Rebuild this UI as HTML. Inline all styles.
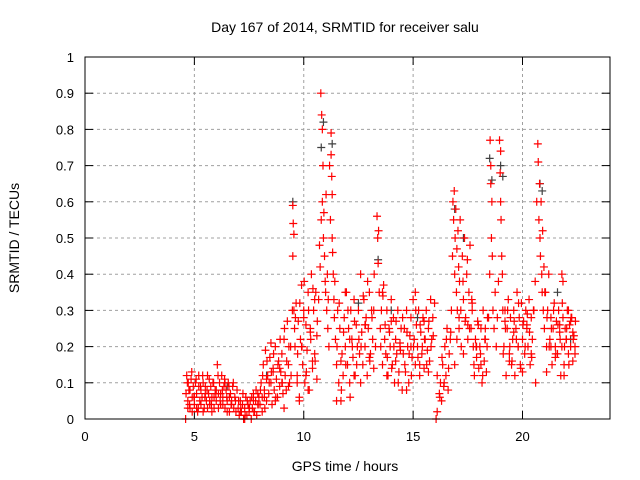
<!DOCTYPE html>
<html><head><meta charset="utf-8"><style>
body{margin:0;background:#fff}
svg{display:block;font-family:"Liberation Sans",sans-serif}
</style></head><body>
<svg id="chart" width="640" height="480" viewBox="0 0 640 480">
<rect width="640" height="480" fill="#fff"/>
<text x="345" y="32" text-anchor="middle" font-size="14">Day 167 of 2014, SRMTID for receiver salu</text>
<text transform="translate(19,238) rotate(-90)" text-anchor="middle" font-size="14">SRMTID / TECUs</text>
<text x="345" y="471" text-anchor="middle" font-size="14">GPS time / hours</text>
<g id="grid"></g>
<g id="ticks"></g>
<g id="marks2"></g>
<g id="marks"></g>
<rect x="85" y="57" width="525" height="362" fill="none" stroke="#000"/>
</svg>
<script>
const xTicks=[0,5,10,15,20];
const yTicks=[0,0.1,0.2,0.3,0.4,0.5,0.6,0.7,0.8,0.9,1];
const yTickLabels=["0","0.1","0.2","0.3","0.4","0.5","0.6","0.7","0.8","0.9","1"];
const redT=[
4.6,4.65,4.7,4.72,4.75,4.8,4.85,4.9,4.95,5.0,5.05,5.1,5.15,5.2,5.25,5.3,5.35,5.4,5.45,5.5,5.55,5.6,5.65,5.7,5.75,5.8,5.85,5.9,5.95,6.0,6.05,6.1,6.15,6.2,6.25,6.3,6.35,6.4,6.45,6.5,6.55,6.6,6.65,6.7,6.75,6.8,6.85,6.9,
4.7,4.8,4.9,5.0,5.1,5.2,5.3,5.4,5.5,5.6,5.7,5.8,5.9,6.0,6.1,6.2,6.3,6.4,6.5,6.6,6.7,
7.0,7.05,7.1,7.15,7.2,7.25,7.3,7.35,7.4,7.45,7.5,7.55,7.6,7.65,7.7,7.75,7.8,7.85,7.9,7.95,7.1,7.3,7.5,7.7,7.9,
8.0,8.05,8.1,8.15,8.2,8.25,8.3,8.35,8.4,8.45,8.5,8.55,8.6,8.65,8.7,8.75,8.8,8.85,8.9,8.95,9.0,9.05,9.1,9.15,9.2,9.25,9.3,9.35,9.4,
8.1,8.3,8.5,8.7,8.9,9.1,9.3,8.2,8.6,9.0,
9.5,9.5,9.52,9.55,9.55,9.58,9.6,9.65,9.7,9.75,9.8,9.85,9.9,9.95,10.0,10.05,10.1,10.15,10.2,10.25,10.3,10.35,10.4,10.45,10.5,10.55,10.6,
9.7,9.8,9.9,10.0,10.1,10.2,10.3,10.4,10.5,10.6,
10.75,10.78,10.8,10.82,10.85,10.85,10.88,10.9,10.92,10.95,10.98,11.0,11.02,11.05,11.08,11.1,11.12,11.15,
11.25,11.25,11.28,11.3,11.3,11.32,11.35,11.38,11.4,11.45,11.5,11.55,11.6,11.65,11.7,11.75,11.8,11.85,11.9,11.95,12.0,12.05,12.1,12.15,12.2,12.25,12.3,12.35,12.4,12.45,
11.5,11.7,11.9,12.1,12.3,12.5,12.55,12.6,12.65,12.7,12.75,12.8,12.85,12.9,12.95,13.0,13.05,13.1,13.15,13.2,
12.6,12.8,13.0,13.2,13.35,13.38,13.4,13.42,13.45,13.5,13.55,13.6,13.65,13.7,13.75,13.8,13.85,13.9,13.95,14.0,14.05,14.1,14.15,14.2,14.25,14.3,14.35,14.4,14.45,14.5,
13.6,13.8,14.0,14.2,14.4,14.55,14.6,14.65,14.7,14.75,14.8,14.85,14.9,14.95,15.0,15.05,15.1,15.15,15.2,15.25,15.3,15.35,15.4,15.45,15.5,15.55,15.6,15.65,15.7,15.75,15.8,15.85,15.9,
14.7,14.9,15.1,15.3,15.5,15.7,
16.05,16.1,16.1,16.2,16.25,16.3,16.35,16.4,16.45,16.5,16.55,16.6,16.65,16.7,16.75,
16.8,16.82,16.85,16.88,16.9,16.92,16.95,16.98,17.0,17.02,17.05,17.08,17.1,17.12,17.15,17.2,17.25,17.3,17.35,17.4,17.45,17.5,17.55,17.6,17.65,17.7,17.75,
16.9,17.0,17.1,17.3,17.5,17.7,17.8,17.85,17.9,17.95,18.0,18.05,18.1,18.15,18.2,18.25,18.3,18.35,18.4,17.9,18.1,18.3,
18.5,18.52,18.55,18.55,18.58,18.6,18.62,18.65,18.7,18.75,18.8,18.85,18.9,
18.95,18.98,19.0,19.0,19.02,19.05,19.08,19.1,19.15,19.2,19.25,19.3,19.35,19.4,19.45,19.5,19.55,19.6,19.65,19.7,19.75,19.8,19.85,19.9,19.95,20.0,20.05,20.1,20.15,20.2,20.25,20.3,20.35,20.4,20.45,20.5,
19.2,19.4,19.6,19.8,20.0,20.2,20.4,20.6,
20.65,20.7,20.72,20.75,20.78,20.8,20.82,20.85,20.88,20.9,20.92,20.95,20.98,21.0,21.05,21.1,21.15,21.2,21.25,21.3,21.35,21.4,21.45,21.5,21.55,21.6,21.65,21.7,21.75,21.8,21.85,21.9,21.95,22.0,22.05,22.1,22.15,22.2,22.25,22.3,22.35,22.4,
21.1,21.3,21.5,21.7,21.9,22.1,22.3,21.8,21.85,22.0,22.2,22.4
];
const redV=[
0.0,0.12,0.05,0.1,0.08,0.03,0.11,0.06,0.09,0.04,0.1,0.07,0.02,0.12,0.05,0.08,0.06,0.1,0.03,0.09,0.05,0.12,0.07,0.04,0.09,0.06,0.1,0.03,0.08,0.05,0.15,0.07,0.1,0.04,0.12,0.06,0.09,0.03,0.08,0.05,0.1,0.02,0.07,0.04,0.09,0.03,0.06,0.02,
0.03,0.08,0.02,0.06,0.03,0.09,0.04,0.02,0.07,0.03,0.05,0.02,0.06,0.08,0.03,0.07,0.04,0.1,0.02,0.06,0.05,
0.03,0.01,0.05,0.02,0.04,0.0,0.03,0.06,0.01,0.04,0.02,0.05,0.0,0.03,0.07,0.02,0.05,0.01,0.04,0.06,0.02,0.0,0.03,0.05,0.07,
0.04,0.1,0.06,0.15,0.08,0.19,0.05,0.12,0.07,0.17,0.1,0.04,0.14,0.08,0.2,0.11,0.06,0.16,0.09,0.13,0.18,0.07,0.22,0.12,0.08,0.27,0.15,0.1,0.2,
0.02,0.11,0.21,0.05,0.14,0.03,0.09,0.06,0.13,0.1,
0.59,0.45,0.54,0.51,0.3,0.25,0.2,0.32,0.12,0.27,0.06,0.22,0.37,0.15,0.3,0.1,0.26,0.19,0.35,0.08,0.24,0.4,0.14,0.3,0.18,0.35,0.23,
0.1,0.05,0.2,0.28,0.12,0.08,0.25,0.16,0.33,0.11,
0.42,0.9,0.55,0.84,0.8,0.6,0.7,0.5,0.57,0.45,0.38,0.35,0.62,0.3,0.4,0.25,0.33,0.2,
0.79,0.73,0.67,0.62,0.5,0.46,0.4,0.33,0.28,0.22,0.15,0.3,0.1,0.25,0.05,0.18,0.12,0.28,0.2,0.35,0.15,0.25,0.1,0.3,0.22,0.17,0.33,0.12,0.26,0.2,
0.05,0.16,0.35,0.22,0.12,0.3,0.18,0.4,0.24,0.15,0.33,0.2,0.28,0.12,0.25,0.35,0.18,0.3,0.22,0.14,
0.1,0.26,0.17,0.3,0.56,0.5,0.43,0.52,0.35,0.25,0.3,0.15,0.37,0.22,0.18,0.3,0.12,0.25,0.2,0.33,0.15,0.28,0.1,0.22,0.18,0.3,0.13,0.2,0.25,0.08,
0.35,0.12,0.27,0.16,0.21,0.18,0.25,0.13,0.3,0.2,0.1,0.23,0.28,0.17,0.33,0.22,0.15,0.26,0.2,0.3,0.12,0.24,0.18,0.28,0.14,0.22,0.3,0.19,0.25,0.16,0.33,0.22,0.28,
0.08,0.2,0.35,0.15,0.27,0.13,
0.0,0.02,0.12,0.07,0.1,0.05,0.15,0.09,0.2,0.12,0.25,0.08,0.18,0.22,0.3,
0.45,0.6,0.55,0.63,0.4,0.5,0.58,0.35,0.47,0.3,0.52,0.42,0.25,0.38,0.55,0.2,0.45,0.33,0.5,0.28,0.4,0.22,0.35,0.48,0.25,0.32,0.2,
0.15,0.22,0.28,0.18,0.26,0.3,0.12,0.22,0.17,0.27,0.14,0.2,0.25,0.1,0.3,0.16,0.22,0.13,0.28,0.2,0.15,0.25,
0.4,0.77,0.65,0.7,0.5,0.6,0.45,0.3,0.25,0.35,0.2,0.28,0.38,
0.77,0.68,0.74,0.6,0.55,0.45,0.4,0.3,0.2,0.27,0.12,0.25,0.33,0.18,0.28,0.15,0.22,0.3,0.12,0.25,0.35,0.2,0.28,0.15,0.32,0.22,0.27,0.18,0.3,0.25,0.2,0.33,0.15,0.28,0.22,0.3,
0.3,0.16,0.24,0.2,0.13,0.26,0.18,0.1,
0.6,0.76,0.71,0.55,0.65,0.5,0.45,0.6,0.4,0.35,0.52,0.3,0.42,0.25,0.35,0.2,0.3,0.4,0.22,0.28,0.15,0.25,0.32,0.2,0.27,0.18,0.3,0.24,0.12,0.2,0.28,0.15,0.25,0.22,0.3,0.18,0.26,0.2,0.28,0.16,0.23,0.2,
0.13,0.2,0.17,0.26,0.12,0.3,0.24,0.4,0.38,0.22,0.27,0.18
];
const redT2=[
4.62,4.68,4.78,4.88,4.98,5.08,5.18,5.28,5.38,5.48,5.58,5.68,5.78,5.88,5.98,6.08,6.18,6.28,6.38,6.48,6.58,6.68,6.78,6.88,6.95,
7.02,7.12,7.22,7.32,7.42,7.52,7.62,7.72,7.82,7.92,
8.02,8.12,8.22,8.32,8.42,8.52,8.62,8.72,8.82,8.92,9.02,9.12,9.22,9.32,9.42,9.48,
9.62,9.72,9.82,9.92,10.02,10.12,10.22,10.32,10.42,10.52,10.62,10.68,10.72,
11.18,11.22,11.42,11.52,11.62,11.72,11.82,11.92,12.02,12.12,12.22,12.32,12.42,12.52,12.62,12.72,12.82,12.92,13.02,13.12,13.22,13.28,
13.52,13.62,13.72,13.82,13.92,14.02,14.12,14.22,14.32,14.42,14.52,14.62,14.72,14.82,14.92,15.02,15.12,15.22,15.32,15.42,15.52,15.62,15.72,15.82,15.92,15.98,
16.22,16.32,16.42,16.52,16.62,16.72,
17.18,17.28,17.38,17.48,17.58,17.68,17.78,17.88,17.98,18.08,18.18,18.28,18.38,18.45,
19.12,19.22,19.32,19.42,19.52,19.62,19.72,19.82,19.92,20.02,20.12,20.22,20.32,20.42,20.52,20.58,
21.02,21.12,21.22,21.32,21.42,21.52,21.62,21.72,21.82,21.92,22.02,22.12,22.22,22.32,22.42
];
const redV2=[
0.07,0.1,0.04,0.13,0.06,0.11,0.03,0.09,0.12,0.06,0.08,0.11,0.04,0.1,0.07,0.12,0.05,0.08,0.11,0.06,0.09,0.04,0.1,0.05,0.08,
0.05,0.03,0.07,0.01,0.05,0.03,0.06,0.02,0.08,0.04,
0.08,0.12,0.03,0.16,0.1,0.13,0.18,0.06,0.15,0.22,0.1,0.25,0.16,0.2,0.12,0.3,
0.28,0.18,0.32,0.2,0.38,0.13,0.3,0.22,0.36,0.16,0.27,0.33,0.48,
0.7,0.55,0.38,0.2,0.32,0.08,0.24,0.15,0.3,0.06,0.2,0.27,0.15,0.22,0.2,0.34,0.26,0.38,0.16,0.28,0.4,0.2,
0.2,0.34,0.26,0.17,0.24,0.14,0.2,0.27,0.1,0.19,0.28,0.15,0.24,0.18,0.12,0.2,0.3,0.17,0.26,0.2,0.22,0.15,0.27,0.2,0.23,0.32,
0.06,0.17,0.1,0.22,0.14,0.24,
0.3,0.38,0.27,0.44,0.25,0.33,0.15,0.2,0.26,0.18,0.12,0.22,0.2,0.28,
0.18,0.25,0.3,0.2,0.16,0.27,0.22,0.32,0.14,0.26,0.2,0.29,0.24,0.17,0.3,0.38,
0.35,0.28,0.2,0.25,0.3,0.18,0.26,0.22,0.32,0.2,0.25,0.15,0.28,0.22,0.27
];
const blackT=[9.5,10.8,10.9,11.3,12.5,13.4,14.0,15.2,16.9,17.3,18.5,18.6,19.0,19.1,20.8,20.9,21.6,22.2,6.5,8.3];
const blackV=[0.6,0.75,0.82,0.76,0.32,0.44,0.3,0.28,0.58,0.5,0.72,0.66,0.7,0.67,0.65,0.63,0.35,0.22,0.09,0.12];

const NS="http://www.w3.org/2000/svg";
const X0=85,X1=610,Y0=419,Y1=57;
function sx(v){return X0+(v/24)*(X1-X0);}
function sy(v){return Y0-v*(Y0-Y1);}
const grid=document.getElementById('grid'),ticks=document.getElementById('ticks');
function mk(tag,attrs,parent){const e=document.createElementNS(NS,tag);for(const k in attrs)e.setAttribute(k,attrs[k]);parent.appendChild(e);return e;}
yTicks.forEach((v,i)=>{
  const y=sy(v);
  if(i>0&&i<yTicks.length-1){const g=mk('line',{x1:X0,x2:X1,y1:y,y2:y,stroke:'#a0a0a0','stroke-dasharray':'3,3'},grid);
  
  }
  mk('line',{x1:X0,x2:X0+8,y1:y,y2:y,stroke:'#000'},ticks);
  mk('line',{x1:X1,x2:X1-8,y1:y,y2:y,stroke:'#000'},ticks);
  const t=mk('text',{x:X0-11,y:y+5,'text-anchor':'end','font-size':'13'},ticks);
  t.textContent=yTickLabels[i];
  
  
});
xTicks.forEach(v=>{
  const x=sx(v);
  if(v>0){const g=mk('line',{x1:x,x2:x,y1:Y0,y2:Y1,stroke:'#a0a0a0','stroke-dasharray':'3,3'},grid);
  
  }
  mk('line',{x1:x,x2:x,y1:Y0,y2:Y0-8,stroke:'#000'},ticks);
  mk('line',{x1:x,x2:x,y1:Y1,y2:Y1+8,stroke:'#000'},ticks);
  const t=mk('text',{x:x,y:Y0+22,'text-anchor':'middle','font-size':'13'},ticks);
  t.textContent=String(v);
  
  
});
function plus(parent,x,y,col){
  return mk('path',{d:`M${x-4},${y}H${x+4}M${x},${y-4}V${y+4}`,stroke:col,'stroke-width':'1.2',fill:'none'},parent);
}
const m2=document.getElementById('marks2');
blackT.forEach((t,i)=>{
  const p=plus(m2,sx(t),sy(blackV[i]),'#404040');
  
  
});
const m=document.getElementById('marks');
redT.forEach((t,i)=>{
  if(redV[i]===undefined)return;
  const p=plus(m,sx(t),sy(redV[i]),'#ff0000');
  
  
});
redT2.forEach((t,i)=>{
  if(redV2[i]===undefined)return;
  const p=plus(m,sx(t),sy(redV2[i]),'#ff0000');
  
  
});
</script>
</body></html>
